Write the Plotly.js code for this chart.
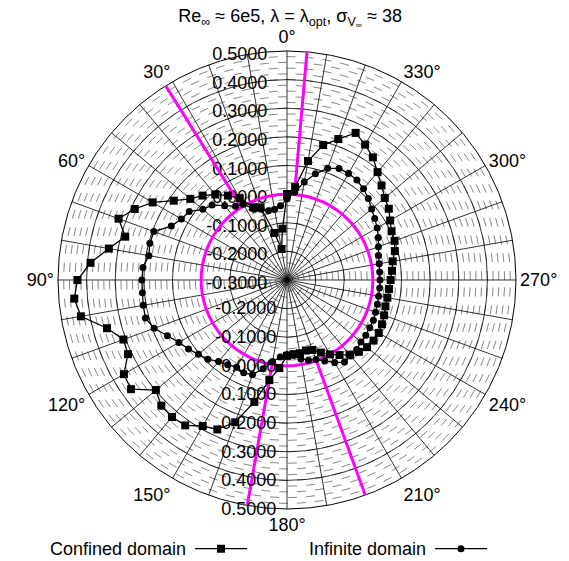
<!DOCTYPE html>
<html><head><meta charset="utf-8">
<script src="https://cdn.plot.ly/plotly-3.0.1.min.js"></script>
<style>html,body{margin:0;padding:0;background:#fff}#chart{width:569px;height:561px}</style>
</head><body><div id="chart"></div>
<script>
// ---- data ----
const angles = [0,5,10,15,20,25,30,35,40,45,50,55,60,65,70,75,80,85,90,95,100,105,110,115,120,125,130,135,140,145,150,155,160,165,170,175,180,185,190,195,200,205,210,215,220,225,230,235,240,245,250,255,260,265,270,275,280,285,290,295,300,305,310,315,320,325,330,335,340,345,350,355];
const confinedR = [0.0,-0.12,-0.19,-0.13,-0.03,-0.02,0.03,0.06,0.09,0.117,0.141,0.183,0.242,0.287,0.326,0.285,0.332,0.389,0.432,0.446,0.431,0.351,0.308,0.313,0.358,0.365,0.298,0.321,0.325,0.32,0.289,0.276,0.229,0.141,0.055,0.009,-0.035,-0.04,-0.04,-0.045,-0.04,-0.02,0.0,0.02,0.04,0.055,0.065,0.069,0.07,0.066,0.061,0.056,0.056,0.058,0.062,0.068,0.075,0.09,0.1,0.103,0.116,0.134,0.146,0.167,0.192,0.223,0.246,0.267,0.224,0.188,0.122,0.026];
const infiniteR = [-0.016,-0.04,-0.05,-0.05,-0.037,-0.027,0.006,0.014,0.039,0.07,0.084,0.117,0.126,0.146,0.195,0.196,0.19,0.205,0.207,0.207,0.21,0.212,0.194,0.161,0.136,0.12,0.104,0.091,0.072,0.061,0.052,0.058,0.052,0.021,-0.01,-0.03,-0.04,-0.035,-0.02,-0.01,-0.004,0.012,0.033,0.05,0.047,0.044,0.037,0.036,0.034,0.033,0.029,0.027,0.025,0.025,0.025,0.025,0.027,0.031,0.04,0.052,0.064,0.074,0.086,0.102,0.116,0.126,0.13,0.13,0.115,0.084,0.048,0.008];
const stallAngles = [355, 32, 170, 200];
const stallR = [0, 0.5];
const zeroCircleR = 0;
const radialTicks = [-0.3,-0.2,-0.1,0,0.1,0.2,0.3,0.4,0.5];
const angularTicks = [0,10,20,30,40,50,60,70,80,90,100,110,120,130,140,150,160,170,180,190,200,210,220,230,240,250,260,270,280,290,300,310,320,330,340,350];
const legendLabels = ['Confined domain', 'Infinite domain'];
const titleText = 'Re<sub>∞</sub> ≈ 6e5, λ = λ<sub>opt</sub>, σ<sub>V<sub>∞</sub></sub> ≈ 38';

// ---- build ----
const FONT = 'Liberation Sans, Arial, Helvetica, sans-serif';
const radialText = radialTicks.map(v => v.toFixed(4));
const angText = angularTicks.map(v => (v % 30 === 0 ? v + '°' : ''));
const closedTheta = angles.concat([360]);
const dom = {x:[0.1019,0.9069], y:[0.0927,0.9091]};
const angBase = {rotation:90, direction:'counterclockwise', ticks:''};

const traces = [];
traces.push({type:'scatterpolar', subplot:'polar', r:[], theta:[], showlegend:false, hoverinfo:'skip'});
traces.push({type:'scatterpolar', subplot:'polar2', r:[], theta:[], showlegend:false, hoverinfo:'skip'});
traces.push({type:'scatterpolar', subplot:'polar3', mode:'lines',
  r: closedTheta.map(() => zeroCircleR), theta: closedTheta,
  line:{color:'#ff00ff', width:3}, showlegend:false, hoverinfo:'skip'});
stallAngles.forEach(a => traces.push({type:'scatterpolar', subplot:'polar3', mode:'lines',
  r: stallR, theta:[a,a], line:{color:'#ff00ff', width:3}, showlegend:false, hoverinfo:'skip'}));
traces.push({type:'scatterpolar', subplot:'polar3', mode:'lines+markers', name:' ', legend:'legend',
  r: confinedR.concat([confinedR[0]]), theta: closedTheta,
  line:{color:'#000', width:1.3}, marker:{symbol:'square', size:8, color:'#000'}});
traces.push({type:'scatterpolar', subplot:'polar3', mode:'lines+markers', name:' ', legend:'legend2',
  r: infiniteR.concat([infiniteR[0]]), theta: closedTheta,
  line:{color:'#000', width:1.3}, marker:{symbol:'circle', size:7, color:'#000'}});

const LEG_Y = 0.0214;
const legendBase = {orientation:'h', xanchor:'left', y:LEG_Y, yanchor:'middle', itemwidth:52,
  font:{size:18}, bgcolor:'rgba(0,0,0,0)', borderwidth:0};

const layout = {
  width:569, height:561,
  margin:{l:0,r:0,t:0,b:0, autoexpand:false},
  paper_bgcolor:'#fff',
  font:{family:FONT, size:18, color:'#000'},
  title:{text:titleText, x:0.51, xanchor:'center', y:0.972, yanchor:'middle', font:{family:FONT, size:18, color:'#000'}},
  polar:{domain:dom, bgcolor:'#fff',
    radialaxis:{range:[-0.3,0.5], tick0:-0.3, dtick:0.02, showgrid:true, gridcolor:'#333', gridwidth:0.6, griddash:'dash', showticklabels:false, ticks:'', showline:false},
    angularaxis:Object.assign({}, angBase, {showgrid:false, showticklabels:false, showline:false})},
  polar2:{domain:dom, bgcolor:'rgba(0,0,0,0)',
    radialaxis:{range:[-0.3,0.5], tickmode:'array', tickvals:radialTicks, ticktext:radialText, angle:90, side:'counterclockwise',
      showgrid:true, gridcolor:'#000', gridwidth:0.8, showline:false, ticks:'outside', ticklen:3, tickcolor:'rgba(0,0,0,0)', tickfont:{size:18, color:'#000'}},
    angularaxis:Object.assign({}, angBase, {tickmode:'array', tickvals:angularTicks, ticktext:angText, showgrid:true, gridcolor:'#000', gridwidth:0.8,
      showline:true, linecolor:'#000', linewidth:1, tickfont:{size:18, color:'#000'}})},
  polar3:{domain:dom, bgcolor:'rgba(0,0,0,0)',
    radialaxis:{range:[-0.3,0.5], tickmode:'array', tickvals:radialTicks.slice(1), ticktext:radialText.slice(1), angle:270, side:'clockwise', tickangle:-90,
      showgrid:false, showline:false, ticks:'outside', ticklen:3, tickcolor:'rgba(0,0,0,0)', tickfont:{size:18, color:'#000'}},
    angularaxis:Object.assign({}, angBase, {showgrid:false, showticklabels:false, showline:false})},
  showlegend:true,
  legend:Object.assign({}, legendBase, {x:190/569}),
  legend2:Object.assign({}, legendBase, {x:430/569}),
  annotations:[
    {text:legendLabels[0], xref:'paper', yref:'paper', x:0.331, y:LEG_Y, xanchor:'right', yanchor:'middle', showarrow:false, font:{size:18}},
    {text:legendLabels[1], xref:'paper', yref:'paper', x:0.753, y:LEG_Y, xanchor:'right', yanchor:'middle', showarrow:false, font:{size:18}}
  ]
};
Plotly.newPlot('chart', traces, layout, {displayModeBar:false, staticPlot:true});
</script></body></html>
